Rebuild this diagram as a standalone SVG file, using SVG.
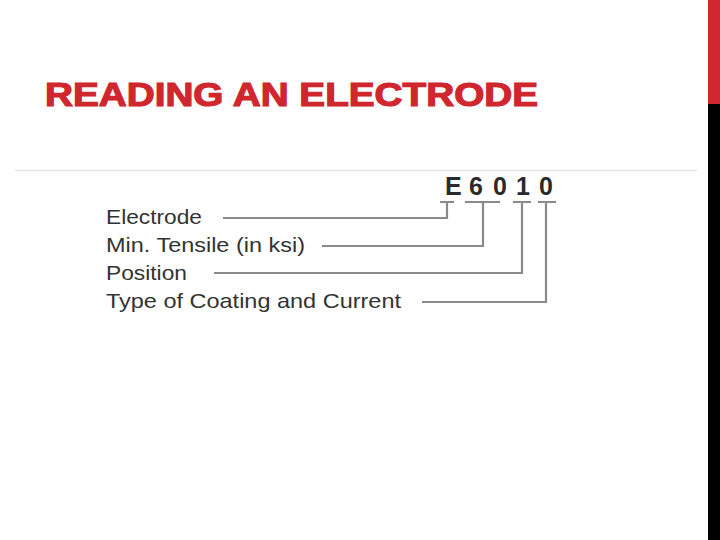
<svg xmlns="http://www.w3.org/2000/svg" width="720" height="540" viewBox="0 0 720 540">
<style>
.title{font-family:"Liberation Sans",Arial,sans-serif;font-weight:bold;font-size:33px;fill:#d0262e;stroke:#d0262e;stroke-width:1.2}
.lbl{font-family:"Liberation Sans",Arial,sans-serif;font-size:21px;fill:#333}
.code{font-family:"Liberation Sans",Arial,sans-serif;font-weight:bold;font-size:25px;fill:#2a2a2a}
.ln{fill:none;stroke:#8a8a8a;stroke-width:2.2}
</style>
<rect width="720" height="540" fill="#fff"/>
<rect x="708" y="0" width="12" height="104" fill="#d0282f"/>
<rect x="708" y="104" width="12" height="436" fill="#000"/>
<line x1="15" y1="170.5" x2="697" y2="170.5" stroke="#e6e6e6" stroke-width="1.5"/>
<g id="title"><text class="title" x="45" y="106" textLength="493" lengthAdjust="spacingAndGlyphs">READING AN ELECTRODE</text></g>
<g id="code">
<text class="code" x="445" y="195">E</text>
<text class="code" x="469" y="195">6</text>
<text class="code" x="493" y="195">0</text>
<text class="code" x="516" y="195">1</text>
<text class="code" x="539" y="195">0</text>
</g>
<g id="label-electrode"><text class="lbl" x="106" y="224" textLength="96" lengthAdjust="spacingAndGlyphs">Electrode</text></g>
<g id="label-tensile"><text class="lbl" x="106" y="252" textLength="199" lengthAdjust="spacingAndGlyphs">Min. Tensile (in ksi)</text></g>
<g id="label-position"><text class="lbl" x="106" y="280" textLength="81" lengthAdjust="spacingAndGlyphs">Position</text></g>
<g id="label-type"><text class="lbl" x="106" y="308" textLength="295" lengthAdjust="spacingAndGlyphs">Type of Coating and Current</text></g>
<g id="connectors">
<path class="ln" d="M440 202H454M447 202V218H223"/>
<path class="ln" d="M465 202H500M483 202V246H322"/>
<path class="ln" d="M513 202H531M522 202V273H214"/>
<path class="ln" d="M538 202H556M546 202V302H422"/>
</g>
</svg>
